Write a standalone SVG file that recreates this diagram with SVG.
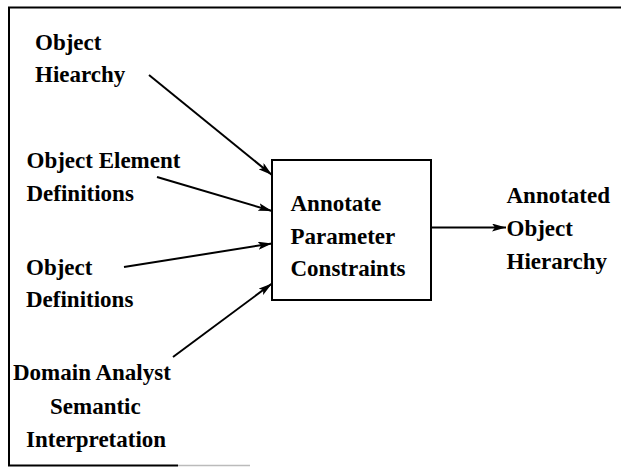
<svg xmlns="http://www.w3.org/2000/svg" width="621" height="472" viewBox="0 0 621 472">
  <style>
    .lbl { font-family: "Liberation Serif", "Times New Roman", serif; font-weight: bold; font-size: 23px; fill: #000; }
    .edge { stroke: #000; stroke-width: 2; fill: none; }
    .box { stroke: #000; stroke-width: 2; fill: #fff; }
  </style>
  <defs>
    <marker id="arrow" viewBox="0 0 14 8" refX="14" refY="4" markerWidth="14" markerHeight="8" markerUnits="userSpaceOnUse" orient="auto">
      <path d="M0,0 L14,4 L0,8 L3,4 Z" fill="#000"/>
    </marker>
  </defs>
  <rect width="621" height="472" fill="#fff"/>

  <!-- outer frame -->
  <g id="frame">
    <path d="M621,7.5 L9,7.5 L9,465.5 L178,465.5" stroke="#000" stroke-width="2" fill="none"/>
    <path d="M178,465.5 L250,465.5" stroke="#bbb" stroke-width="1.5" fill="none"/>
  </g>

  <!-- connectors -->
  <g id="connectors">
    <line class="edge" x1="149" y1="75" x2="272" y2="175" marker-end="url(#arrow)"/>
    <line class="edge" x1="157" y1="177" x2="272" y2="211" marker-end="url(#arrow)"/>
    <line class="edge" x1="124" y1="267" x2="272" y2="243.5" marker-end="url(#arrow)"/>
    <line class="edge" x1="173" y1="357" x2="272" y2="283.5" marker-end="url(#arrow)"/>
    <line class="edge" x1="431" y1="227.5" x2="506" y2="227.5" marker-end="url(#arrow)"/>
  </g>

  <g id="object-hierarchy">
    <text class="lbl" x="35" y="49.5">Object</text>
    <text class="lbl" x="35" y="82">Hiearchy</text>
  </g>

  <g id="object-element-definitions">
    <text class="lbl" x="26.5" y="168">Object Element</text>
    <text class="lbl" x="26.5" y="201">Definitions</text>
  </g>

  <g id="object-definitions">
    <text class="lbl" x="26" y="275">Object</text>
    <text class="lbl" x="26" y="307">Definitions</text>
  </g>

  <g id="domain-analyst">
    <text class="lbl" x="13" y="379.5">Domain Analyst</text>
    <text class="lbl" x="50" y="414">Semantic</text>
    <text class="lbl" x="26" y="446.5">Interpretation</text>
  </g>

  <g id="annotate-parameter-constraints">
    <rect class="box" x="272" y="160" width="159" height="140"/>
    <text class="lbl" x="290.5" y="210.5">Annotate</text>
    <text class="lbl" x="290.5" y="243.5">Parameter</text>
    <text class="lbl" x="290.5" y="276">Constraints</text>
  </g>

  <g id="annotated-object-hierarchy">
    <text class="lbl" x="506.5" y="203">Annotated</text>
    <text class="lbl" x="506.5" y="236">Object</text>
    <text class="lbl" x="506.5" y="268.5">Hierarchy</text>
  </g>
</svg>
